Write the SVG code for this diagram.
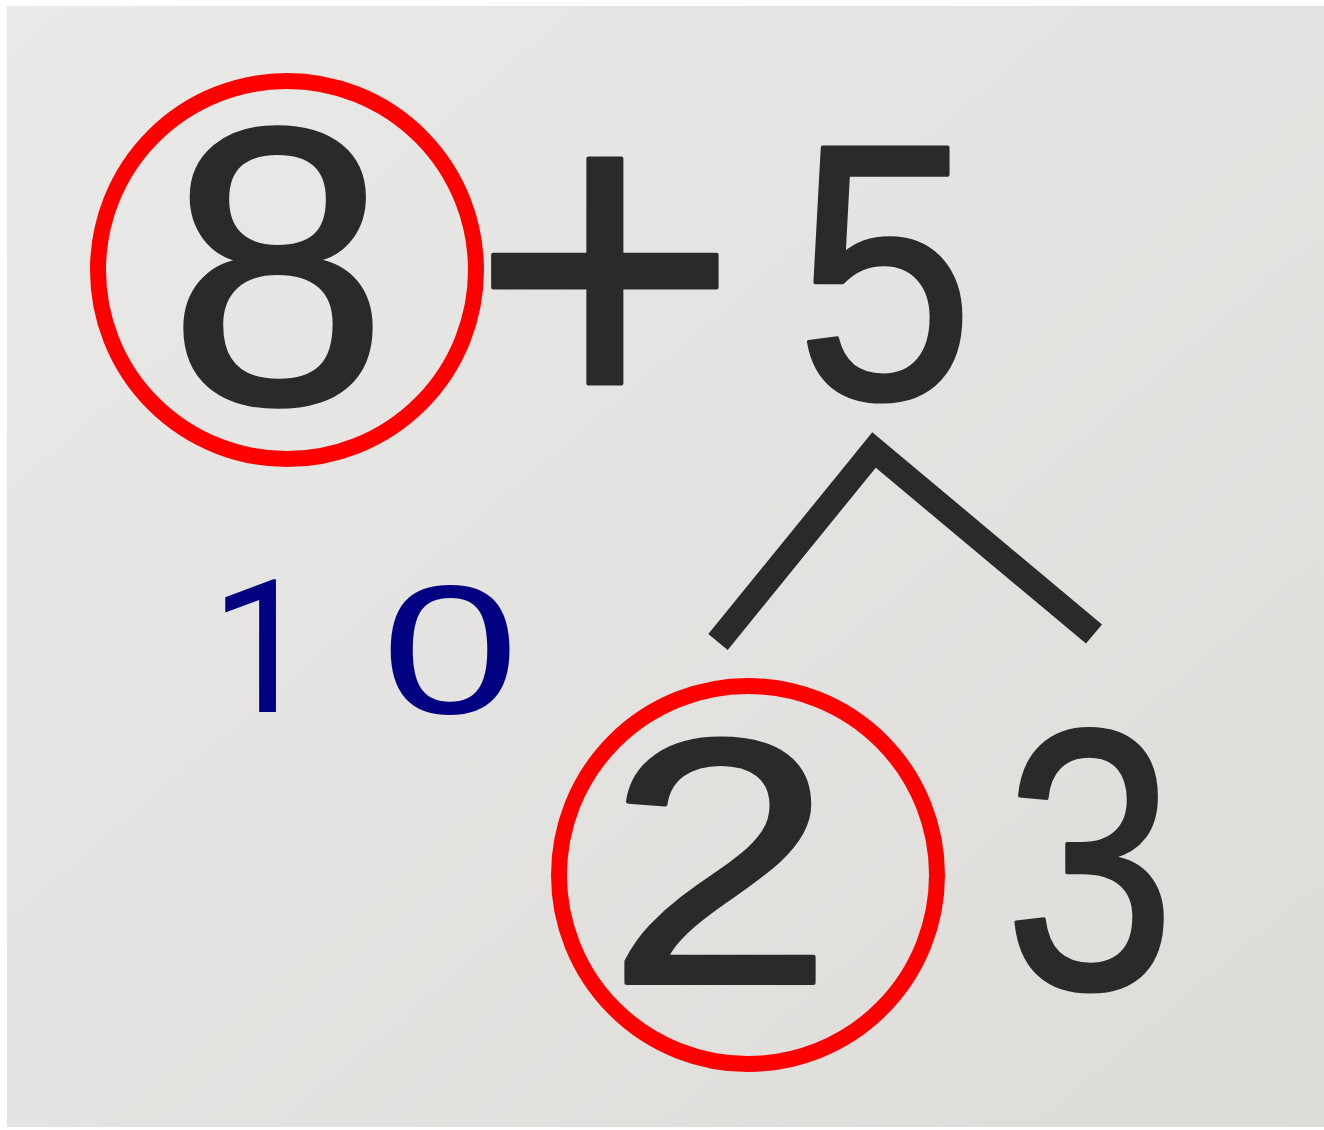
<svg xmlns="http://www.w3.org/2000/svg" width="1324" height="1130" viewBox="0 0 1324 1130">
  <defs>
    <linearGradient id="paper" x1="0" y1="0" x2="1" y2="1">
      <stop offset="0" stop-color="#e9e9e7"/>
      <stop offset="1" stop-color="#dddcd9"/>
    </linearGradient>
    <style>
      .ink { font-family: "Liberation Sans", Arial, sans-serif; fill: #2b2a28; stroke: #2b2a28; stroke-width: 4; stroke-linejoin: round; text-anchor: middle; }
      .ring { fill: none; stroke: #ff0000; stroke-width: 16; }
      .blue { font-family: Roboto, "Liberation Sans", sans-serif; fill: #000080; text-anchor: middle; font-size: 186px; }
      .blue0 { font-family: "Liberation Sans", Arial, sans-serif; fill: #000080; text-anchor: middle; font-size: 184px; }
      .branch { fill: none; stroke: #2b2a28; stroke-width: 25; stroke-linecap: butt; stroke-linejoin: miter; }
    </style>
  </defs>
  <rect x="0" y="0" width="1324" height="1130" fill="#ffffff"/>
  <rect x="7" y="6" width="1317" height="1121" fill="url(#paper)"/>

  <g id="connectors">
    <path class="branch" d="M718,642 L874,450 L1094,634"/>
  </g>

  <g id="node-8">
    <circle class="ring" cx="287" cy="270" r="189"/>
    <text class="ink" x="278" y="403" font-size="395">8</text>
  </g>
  <g id="node-plus">
    <text class="ink" x="605" y="424" font-size="460">+</text>
  </g>
  <g id="node-5">
    <text class="ink" x="0" y="398" font-size="364" transform="translate(885,0) scale(0.88,1)">5</text>
  </g>
  <g id="node-2">
    <circle class="ring" cx="748" cy="875" r="189"/>
    <text class="ink" x="0" y="983" font-size="350" transform="translate(720,0) scale(1.17,1)">2</text>
  </g>
  <g id="node-3">
    <text class="ink" x="0" y="988" font-size="371" transform="translate(1090,0) scale(0.83,1)">3</text>
  </g>
  <g id="node-10">
    <text class="blue" x="262" y="712">1</text>
    <text class="blue0" x="0" y="713" transform="translate(450,0) scale(1.35,1)">0</text>
  </g>
</svg>
